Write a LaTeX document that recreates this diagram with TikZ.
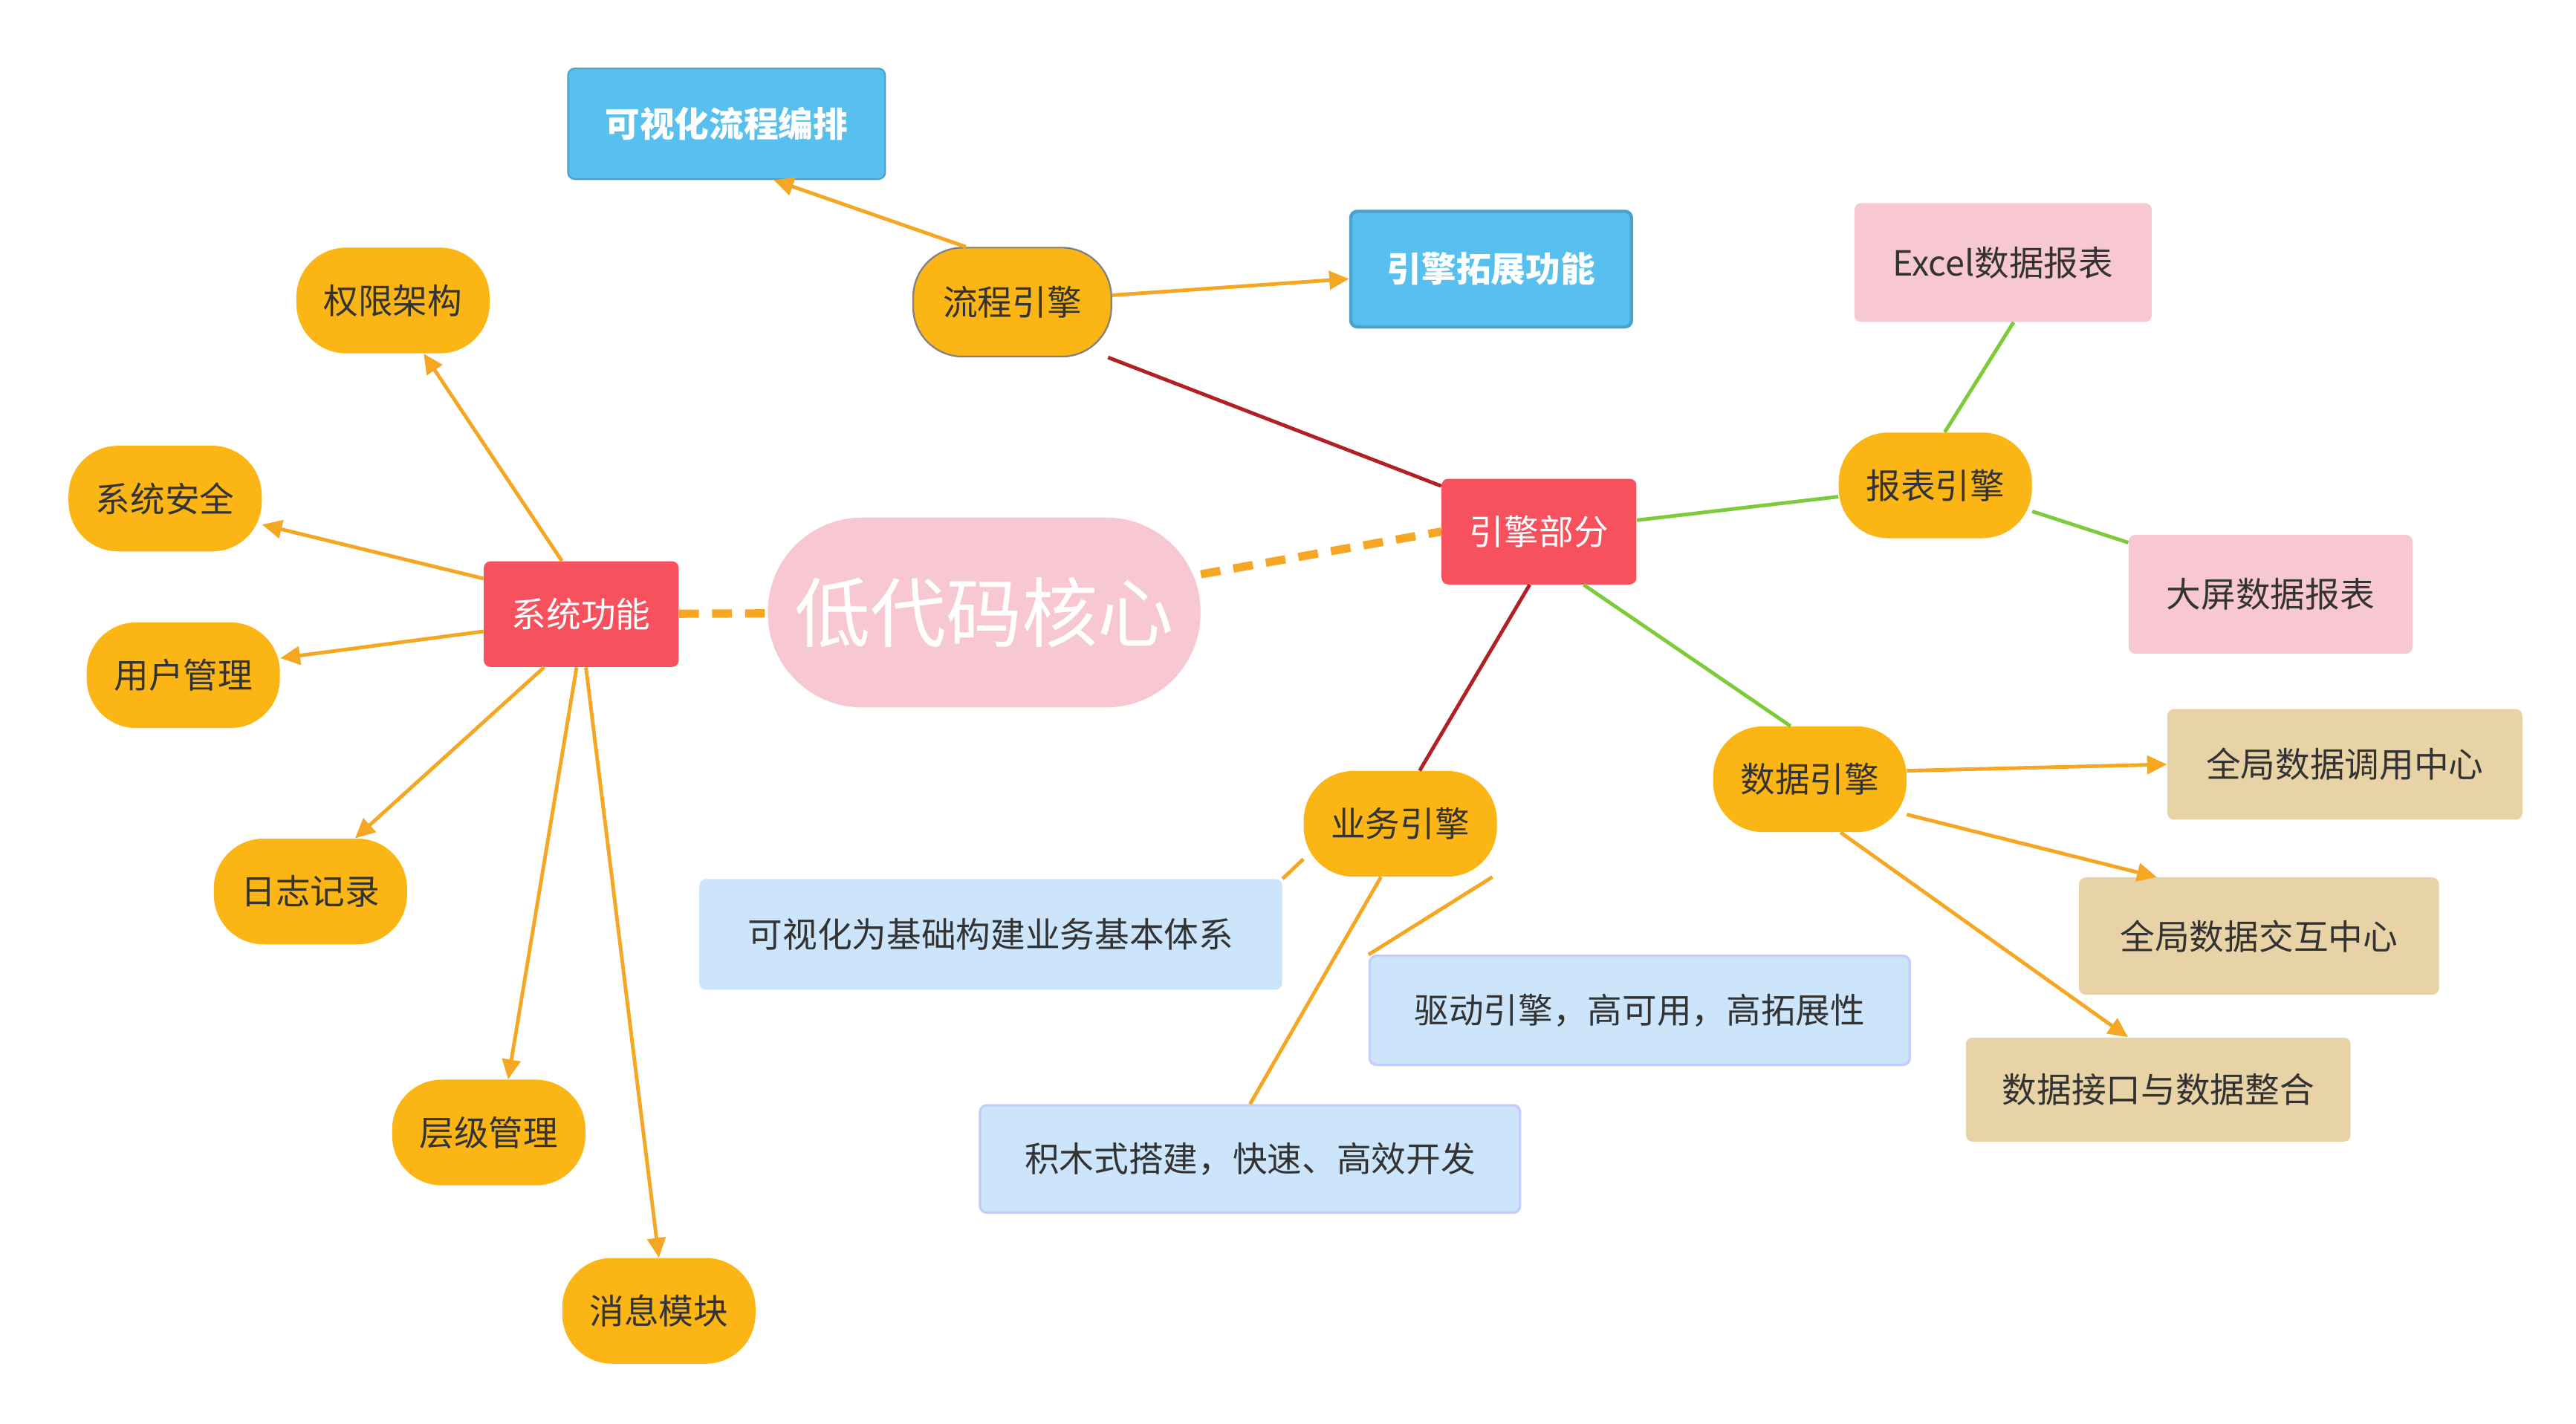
\documentclass[tikz,border=0pt]{standalone}
\usepackage{fontspec}
\setmainfont{Noto Sans CJK SC}
\usetikzlibrary{arrows.meta}
\definecolor{org}{HTML}{FBB515}
\definecolor{ln}{HTML}{F5A623}
\definecolor{rd}{HTML}{F8515E}
\definecolor{pk}{HTML}{F8C8D2}
\definecolor{bl}{HTML}{58C0EE}
\definecolor{lb}{HTML}{CCE5FA}
\definecolor{tn}{HTML}{E8D3A6}
\definecolor{dr}{HTML}{B02024}
\definecolor{gr}{HTML}{7CCB3A}
\definecolor{tx}{HTML}{333333}
\tikzset{
 base/.style={inner sep=0pt,align=center,text=tx,font=\fontsize{21}{24}\selectfont},
 leaf/.style={base,fill=org,rounded corners=30pt,minimum width=117pt,minimum height=64pt},
 redbox/.style={base,fill=rd,text=white,rounded corners=4pt,minimum width=118pt,minimum height=64pt},
 bluebox/.style={base,fill=bl,text=white,font=\bfseries\fontsize{21}{24}\selectfont,rounded corners=4pt,draw=bl!85!black,line width=1pt},
 pinkbox/.style={base,fill=pk,rounded corners=4pt,minimum height=72pt},
 lbbox/.style={base,fill=lb,rounded corners=4pt,minimum height=66pt},
 tanbox/.style={base,fill=tn,rounded corners=4pt,minimum height=66pt},
 arr/.style={draw=ln,line width=2.2pt,-{Triangle[length=12pt,width=11pt]}},
 oln/.style={draw=ln,line width=2.2pt},
 redln/.style={draw=dr,line width=2.2pt},
 grln/.style={draw=gr,line width=2.2pt},
}
\begin{document}
\begin{tikzpicture}[x=1pt,y=-1pt]
\useasboundingbox (0,0) rectangle (1560,862.5);
\node[bluebox,minimum width=192pt,minimum height=67pt] (vflow) at (440,75) {可视化流程编排};
\node[bluebox,minimum width=170pt,minimum height=70pt,line width=2pt] (ext) at (903,163) {引擎拓展功能};
\node[leaf,minimum width=120pt,minimum height=66pt,draw=gray,line width=1pt] (flow) at (613,183) {流程引擎};
\node[leaf] (qx) at (238,182) {权限架构};
\node[leaf] (aq) at (100,302) {系统安全};
\node[leaf] (yh) at (111,409) {用户管理};
\node[leaf] (rz) at (188,540) {日志记录};
\node[leaf] (cj) at (296,686) {层级管理};
\node[leaf] (xx) at (399,794) {消息模块};
\node[redbox] (sys) at (352,372) {系统功能};
\node[base,fill=pk,text=white,rounded corners=57pt,minimum width=262pt,minimum height=115pt,font=\fontsize{46}{50}\selectfont] (core) at (596,371) {低代码核心};
\node[redbox] (eng) at (932,322) {引擎部分};
\node[leaf] (bb) at (1172,294) {报表引擎};
\node[pinkbox,minimum width=180pt] (xls) at (1213,159) {Excel数据报表};
\node[pinkbox,minimum width=172pt] (dp) at (1375,360) {大屏数据报表};
\node[leaf] (sj) at (1096,472) {数据引擎};
\node[tanbox,minimum width=215pt,minimum height=67pt] (t1) at (1420,463) {全局数据调用中心};
\node[tanbox,minimum width=218pt,minimum height=71pt] (t2) at (1368,567) {全局数据交互中心};
\node[tanbox,minimum width=233pt,minimum height=63pt] (t3) at (1307,660) {数据接口与数据整合};
\node[leaf] (yw) at (848,499) {业务引擎};
\node[lbbox,minimum width=353pt,minimum height=67pt] (b1) at (600,566) {可视化为基础构建业务基本体系};
\node[lbbox,minimum width=327pt,draw=lb!75!blue!60,line width=1.5pt] (b2) at (993,612) {驱动引擎，高可用，高拓展性};
\node[lbbox,minimum width=327pt,minimum height=65pt,draw=lb!75!blue!60,line width=1.5pt] (b3) at (757,702) {积木式搭建，快速、高效开发};
% connectors
\draw[arr] (sys.110) -- (qx.300);
\draw[arr] (sys.160) -- (aq.345);
\draw[arr] (sys.190) -- (yh.10);
\draw[arr] (sys.235) -- (rz.50);
\draw[arr] (sys.265) -- (cj.70);
\draw[arr] (sys.275) -- (xx.90);
\draw[ln,line width=5pt,dash pattern=on 12pt off 8pt] (sys) -- (core);
\draw[ln,line width=5pt,dash pattern=on 12pt off 8pt] (core.10) -- (eng.180);
\draw[arr] (flow.130) -- (vflow.310);
\draw[arr] (flow) -- (ext);
\draw[redln] (eng.155) -- (flow.330);
\draw[redln] (eng.260) -- (yw.70);
\draw[grln] (eng) -- (bb);
\draw[grln] (bb.80) -- (xls.280);
\draw[grln] (bb.345) -- (dp.160);
\draw[grln] (eng.310) -- (sj.110);
\draw[arr] (sj.5) -- (t1.west);
\draw[arr] (sj.340) -- (t2.150);
\draw[arr] (sj.300) -- (t3.120);
\draw[oln] (yw.200) -- (b1.north east);
\draw[oln] (yw.330) -- (b2.north west);
\draw[oln] (yw.250) -- (b3.north);
\end{tikzpicture}
\end{document}
